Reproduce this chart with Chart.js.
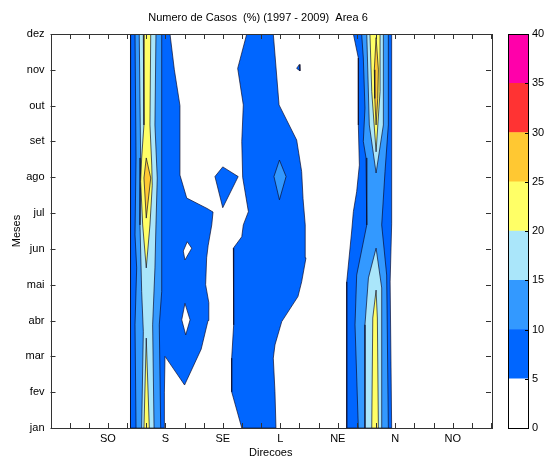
<!DOCTYPE html>
<html>
<head>
<meta charset="utf-8">
<script src="https://cdn.jsdelivr.net/npm/chart.js@4.4.0/dist/chart.umd.min.js"></script>
<style>
html,body{margin:0;padding:0;background:#fff;}
#wrap{position:relative;width:547px;height:461px;}
#main{position:absolute;left:0;top:0;}
#bar{position:absolute;left:500px;top:0;}
</style>
</head>
<body>
<div id="wrap">
<canvas id="main" width="500" height="461"></canvas>
<canvas id="bar" width="47" height="461"></canvas>
</div>
<script>
// axis labels
const months = ['jan','fev','mar','abr','mai','jun','jul','ago','set','out','nov','dez'];
const dirTicks = [45, 90, 135, 180, 225, 270, 315];
const dirNames = ['SO','S','SE','L','NE','N','NO'];
const titleText = 'Numero de Casos  (%) (1997 - 2009)  Area 6';

// colour levels (0-40 %, step 5)
const levels = [0,5,10,15,20,25,30,35,40];
const levelColors = ['#ffffff','#0066ff','#3399ff','#aae6fa','#ffff66','#ffc832','#ff3333','#ff00aa'];

// contour regions: [direction, month]
const sBand5 = [[62.8,12],[62.5,6.5],[62.8,1],[88.9,1],[89.2,2.0],[89.7,3.0],[105,2.2],[118,3.2],[123.4,4.0],[124,4.5],[121.5,5.0],[122.3,5.75],[123.5,6.1],[126.3,6.67],[127.3,7.03],[122.6,7.13],[106.7,7.42],[101.4,8.06],[101.4,10],[97,11],[93.6,12]];
const holeJun = [[104,5.94],[107.1,6.2],[110.6,6.02],[105.3,5.69]];
const holeAbr = [[102.8,4.02],[105.3,4.48],[109.3,4.02],[105.9,3.6]];
const islandSE = [[128.8,8.02],[134.9,8.29],[147,8.02],[134.9,7.15]];
const lBand5 = [[153.7,12],[146.6,11.04],[151,10.02],[149.8,9.0],[150.5,8.0],[155,7.04],[151,6.67],[149.8,6.34],[143.2,6.02],[143.7,5.27],[143.2,3.88],[141.9,2.95],[141.9,2.01],[149.8,1],[176.6,1],[175.8,2.01],[174.5,2.95],[175.8,3.32],[181.1,3.97],[193.8,4.67],[196.7,5.08],[200.1,5.75],[199.5,6.67],[197.8,7.4],[196.7,8.16],[192.8,9.04],[179,10.02],[174.5,12]];
const lBand10 = [[175,8.02],[179.3,8.48],[184.5,8.02],[179.3,7.37]];
const dotNE = [[192.8,11.04],[194.9,11.15],[195.4,10.97]];
const nBand5 = [[237.2,12],[241.1,11.33],[241.1,9.46],[241.9,8.34],[239.8,7.6],[237.2,7.04],[235.9,6.5],[232,5.08],[232,1],[267.2,1],[266,5.08],[267.2,6.7],[267.2,12]];
const nBand10 = [[243.7,12],[245,11.33],[246.3,9.93],[245,9.0],[247.1,8.54],[247.7,6.67],[239.8,5.27],[238.5,3.88],[241.1,1],[264.6,1],[263.3,5.27],[259.4,6.67],[262,8.16],[264.6,9.46],[264.6,12]];
const nBand15top = [[247.7,12],[249.7,9.46],[255,8.12],[260.7,9.46],[260.7,12]];
const nBand15low = [[255,6.02],[249,5.19],[246.3,3.88],[246.3,1],[259.4,1],[259.4,4.91]];
const nBand20top = [[250.2,12],[251.6,10.39],[255,8.71],[258.1,10.39],[258.1,12]];
const nBand20low = [[255,4.85],[252.4,4.07],[251.6,1],[256.8,1],[256,4.07]];
const nBand25 = [[255,11.9],[253.6,11],[254,10.2],[255,9.46],[256.3,10.2],[256.8,11]];
const sBand10 = [[66.2,12],[67,8.54],[66.2,6.39],[67.5,5.47],[66.2,3.88],[67,1],[86.3,1],[85.2,3.88],[87.1,4.81],[87.1,12]];
const sBand15 = [[69.5,12],[70.6,8.54],[70.1,6.67],[71.4,4.81],[72.7,3.69],[71.4,1],[81.1,1],[80,3.88],[81.8,5.47],[82.6,6.67],[83.6,7.98],[81.8,9.46],[82.6,12]];
const sBand20top = [[72.7,12],[73.2,9.46],[71.4,8.54],[70.6,7.88],[72.2,6.67],[75,5.47],[77.9,6.67],[79.7,7.78],[79.3,8.34],[77.9,9.46],[78.5,12]];
const sBand20low = [[75,3.51],[73.2,1],[77.4,1]];
const sBand25 = [[75,8.54],[73.2,7.98],[75,6.86],[78.5,7.98]];

// drawing order (bottom first), with colour level index
const layers = [
  [sBand5,1],[nBand5,1],[lBand5,1],[islandSE,1],[dotNE,1],
  [holeJun,0],[holeAbr,0],
  [lBand10,2],[sBand10,2],[nBand10,2],
  [sBand15,3],[nBand15top,3],[nBand15low,3],
  [sBand20top,4],[sBand20low,4],[nBand20top,4],[nBand20low,4],
  [sBand25,5],[nBand25,5]
];

Chart.defaults.font.family = '"Liberation Sans", Arial, sans-serif';
Chart.defaults.font.size = 11;
Chart.defaults.color = '#000';

const datasets = layers.map((l, i) => {
  const pts = l[0].map(p => ({x:p[0], y:p[1]}));
  pts.push(pts[0]);
  return {
    data: pts,
    showLine: true,
    fill: 'shape',
    backgroundColor: levelColors[l[1]],
    borderColor: 'rgba(10,10,40,0.85)',
    borderWidth: 0.8,
    pointRadius: 0,
    tension: 0,
    order: layers.length - i
  };
});

const axisBox = {
  id: 'axisBox',
  afterDatasetsDraw(chart) {
    const {ctx, chartArea:a, scales} = chart;
    ctx.save();
    ctx.strokeStyle = '#333';
    ctx.lineWidth = 1;
    ctx.beginPath();
    for (let d = 0; d <= 345; d += 15) {
      const x = Math.round(scales.x.getPixelForValue(d)) + 0.5;
      ctx.moveTo(x, a.bottom); ctx.lineTo(x, a.bottom - 5);
      ctx.moveTo(x, a.top); ctx.lineTo(x, a.top + 5);
    }
    for (let m = 1; m <= 12; m++) {
      const y = Math.round(scales.y.getPixelForValue(m)) + 0.5;
      ctx.moveTo(a.left, y); ctx.lineTo(a.left + 5, y);
      ctx.moveTo(a.right, y); ctx.lineTo(a.right - 5, y);
    }
    ctx.stroke();
    ctx.strokeRect(Math.round(a.left) + 0.5, Math.round(a.top) + 0.5, Math.round(a.right - a.left), Math.round(a.bottom - a.top));
    ctx.font = '11px "Liberation Sans", Arial, sans-serif';
    ctx.fillStyle = '#000';
    ctx.textAlign = 'center';
    ctx.textBaseline = 'middle';
    ctx.fillText(titleText, 258, 18);
    ctx.restore();
  }
};

new Chart(document.getElementById('main'), {
  type: 'scatter',
  data: { datasets },
  options: {
    responsive: false,
    animation: false,
    events: [],
    layout: { padding: { top: 34, right: 9, left: 0, bottom: 0 } },
    plugins: { legend: { display: false }, tooltip: { enabled: false } },
    scales: {
      x: {
        type: 'linear', min: 0, max: 345,
        afterBuildTicks: s => { s.ticks = dirTicks.map(v => ({value: v})); },
        ticks: { autoSkip: false, maxRotation: 0, padding: 4,
          callback: v => dirNames[dirTicks.indexOf(v)] || '' },
        grid: { display: false, drawTicks: false },
        border: { display: false },
        title: { display: true, text: 'Direcoes', padding: { top: 0, bottom: 1 } },
        afterFit: s => { s.height = 33; }
      },
      y: {
        type: 'linear', min: 1, max: 12,
        afterBuildTicks: s => { s.ticks = months.map((m, i) => ({value: i + 1})); },
        ticks: { autoSkip: false, padding: 6, callback: v => months[v - 1] },
        grid: { display: false, drawTicks: false },
        border: { display: false },
        title: { display: true, text: 'Meses', padding: { top: 10, bottom: 0 } },
        afterFit: s => { s.width = 50.5; }
      }
    }
  },
  plugins: [axisBox]
});

// colour bar
const barBox = {
  id: 'barBox',
  afterDatasetsDraw(chart) {
    const {ctx, chartArea:a, scales} = chart;
    ctx.save();
    ctx.strokeStyle = '#000';
    ctx.lineWidth = 1;
    ctx.beginPath();
    levels.forEach(v => {
      const y = Math.round(scales.y.getPixelForValue(v)) + 0.5;
      ctx.moveTo(a.right, y); ctx.lineTo(a.right - 3, y);
    });
    ctx.stroke();
    ctx.strokeRect(Math.round(a.left) + 0.5, Math.round(a.top) + 0.5, Math.round(a.right - a.left), Math.round(a.bottom - a.top));
    ctx.restore();
  }
};

new Chart(document.getElementById('bar'), {
  type: 'bar',
  data: {
    labels: [''],
    datasets: levelColors.map((c, i) => ({
      data: [levels[i + 1] - levels[i]],
      backgroundColor: c,
      borderWidth: 0,
      barPercentage: 1,
      categoryPercentage: 1
    }))
  },
  options: {
    responsive: false,
    animation: false,
    events: [],
    layout: { padding: { top: 34, left: 8, bottom: 33, right: 0 } },
    plugins: { legend: { display: false }, tooltip: { enabled: false } },
    scales: {
      x: { display: false, stacked: true },
      y: {
        position: 'right', stacked: true, min: 0, max: 40,
        ticks: { stepSize: 5, padding: 4 },
        grid: { display: false, drawTicks: false },
        border: { display: false },
        afterFit: s => { s.width = 19; }
      }
    }
  },
  plugins: [barBox]
});
</script>
</body>
</html>
